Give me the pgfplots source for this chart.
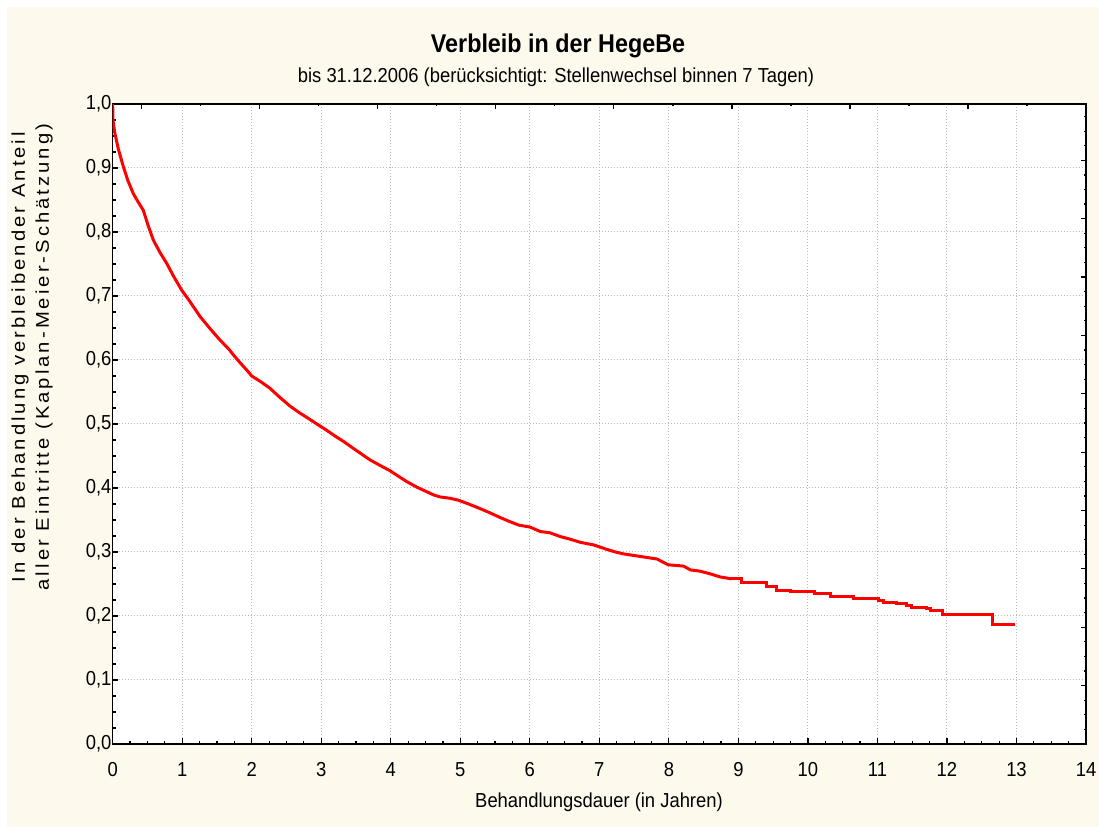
\documentclass[border=0pt]{standalone}
\usepackage{fontspec}
\setmainfont{Liberation Sans}
\usepackage{pgfplots}
\pgfplotsset{compat=1.18}
\newlength\px \setlength\px{0.75pt}
\definecolor{cream}{RGB}{254,249,237}
\definecolor{gridgray}{RGB}{185,185,185}
\begin{document}
\begin{tikzpicture}
\path[use as bounding box] (0,0) rectangle (1099\px,827\px);
\fill[white] (0,0) rectangle (1099\px,827\px);
\fill[cream] (7\px,0) rectangle (1099\px,820\px);
\begin{axis}[
  at={(112.7\px,83\px)}, anchor=south west, scale only axis,
  width=973.3\px, height=640\px,
  xmin=0,xmax=14,ymin=0,ymax=1,
  axis background/.style={fill=white},
  xtick={0,1,2,3,4,5,6,7,8,9,10,11,12,13,14},
  ytick={0,0.1,0.2,0.3,0.4,0.5,0.6,0.7,0.8,0.9,1.0},
  minor x tick num=3, minor y tick num=3,
  tick pos=left,
  tick align=inside,
  major tick length=5.5\px, minor tick length=3\px,
  every tick/.style={black, line width=1.2\px},
  axis line style={black, line width=1.5\px},
  grid=major,
  major grid style={gridgray, line width=1\px, dash pattern=on 1.2\px off 1.8\px},
  /pgf/number format/assume math mode=true,
  yticklabel={\pgfmathprintnumber[fixed,fixed zerofill,precision=1,use comma]{\tick}},
  ticklabel style={font=\fontsize{13.8}{16}\selectfont},
  xticklabel style={inner sep=0pt, yshift=-18\px, yscale=1.1},
  yticklabel style={inner sep=0pt, xshift=-1\px, yscale=1.1},
]
% early part: many tiny steps, drawn as a continuous line
\addplot[color=red, line width=3\px, line join=round] coordinates {
(0,1.0) (0.003,0.975) (0.03,0.955) (0.08,0.93) (0.153,0.902) (0.22,0.88)
(0.296,0.860) (0.36,0.848) (0.44,0.834) (0.51,0.81) (0.584,0.7875) (0.68,0.768)
(0.777,0.751) (0.88,0.73) (0.993,0.709) (1.1,0.693) (1.256,0.668) (1.4,0.649)
(1.544,0.631) (1.663,0.618) (1.736,0.608) (1.83,0.596) (1.93,0.584) (2.0,0.575)
(2.13,0.566) (2.26,0.556) (2.4,0.542) (2.55,0.528) (2.68,0.518) (2.81,0.509)
(2.98,0.497) (3.08,0.490) (3.2,0.481) (3.33,0.472) (3.46,0.462) (3.58,0.453)
(3.70,0.444) (3.85,0.435) (3.99,0.427) (4.1,0.419) (4.23,0.410) (4.38,0.401)
(4.52,0.394) (4.62,0.389) (4.71,0.386) (4.85,0.384) (4.97,0.381) (5.12,0.375)
(5.28,0.368) (5.43,0.361) (5.57,0.354) (5.70,0.348) (5.84,0.342) (6.0,0.339)
(6.15,0.332) (6.29,0.330) (6.44,0.324) (6.58,0.320) (6.73,0.315) (6.92,0.311)
(7.11,0.304) (7.23,0.300) (7.35,0.297) (7.59,0.293) (7.83,0.289) (7.99,0.280)
(8.21,0.278) (8.31,0.272) (8.45,0.270) (8.59,0.266) (8.74,0.261) (8.9,0.258)
};
% tail: visible steps
\addplot[const plot, color=red, line width=3\px] coordinates {
(8.9,0.258) (9.05,0.2526) (9.40,0.2458) (9.55,0.2406) (9.75,0.238) (10.10,0.2354) (10.32,0.2312)
(10.65,0.2266) (11.02,0.224) (11.09,0.2214) (11.27,0.2188) (11.42,0.216) (11.49,0.2136)
(11.70,0.211) (11.76,0.2083) (11.94,0.2016) (12.65,0.186) (12.98,0.186)
};
\end{axis}
\begin{axis}[
  at={(112.7\px,83\px)}, anchor=south west, scale only axis,
  width=973.3\px, height=640\px,
  xmin=0,xmax=14,ymin=0,ymax=1,
  axis line style={draw=none},
  tick pos=right, tick align=inside,
  xtick={0.417,2.115,3.813,5.511,7.209,8.907,10.605,12.303},
  minor xtick={1.266,2.964,4.662,6.36,8.058,9.756,11.454,13.152},
  ytick={0.0912,0.1824,0.2736,0.3648,0.456,0.5472,0.6384,0.7296,0.8208,0.912},
  minor ytick={0.0228,0.0456,0.0684,0.114,0.1368,0.1596,0.2052,0.228,0.2508,0.2964,0.3192,0.342,0.3876,0.4104,0.4332,0.4788,0.5016,0.5244,0.57,0.5928,0.6156,0.6612,0.684,0.7068,0.7524,0.7752,0.798,0.8436,0.8664,0.8892,0.9348,0.9576,0.9804},
  xticklabels={}, yticklabels={},
  major tick length=5\px, minor tick length=2.5\px,
  every tick/.style={black, line width=1.2\px},
]
\addplot[draw=none] coordinates {(0,0)};
\end{axis}
\node[anchor=base, yscale=1.1, font=\bfseries\fontsize{17.5}{20}\selectfont] at (558\px,774\px) {Verbleib in der HegeBe};
\node[anchor=base, yscale=1.1, font=\fontsize{13.8}{16}\selectfont] at (556\px,744\px) {bis 31.12.2006 (berücksichtigt: Stellenwechsel binnen 7 Tagen)};
\node[anchor=base, yscale=1.1, font=\fontsize{13.8}{16}\selectfont] at (599\px,19\px) {Behandlungsdauer (in Jahren)};
\node[rotate=90, xscale=1.1, align=center, font=\fontsize{13.8}{18}\selectfont\addfontfeatures{LetterSpace=15}] at (32\px,470\px) {In der Behandlung verbleibender Anteil\\aller Eintritte (Kaplan-Meier-Schätzung)};
\end{tikzpicture}
\end{document}
